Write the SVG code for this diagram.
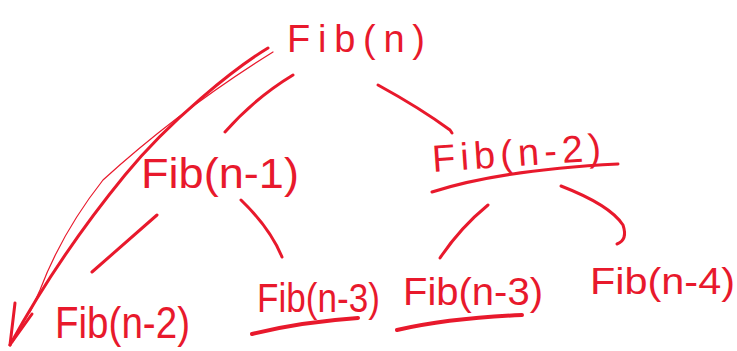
<svg xmlns="http://www.w3.org/2000/svg" width="737" height="351" viewBox="0 0 737 351">
<style>
.t{font-family:"Liberation Sans",Arial,sans-serif;fill:#e8192c}
.c{fill:none;stroke:#e8192c;stroke-width:3;stroke-linecap:round;stroke-linejoin:round}
.thin{stroke-width:1.2}
.u{stroke-width:4}
</style>
<rect width="737" height="351" fill="#ffffff"/>
<g id="connectors">
<path class="c" d="M293,75 Q255,98 225,132"/>
<path class="c" d="M378,85 Q420,108 450,130 L452,133"/>
<path class="c" d="M157,215 L92,272"/>
<path class="c" d="M241,200 Q270,228 282,257"/>
<path class="c" d="M488,205 Q460,228 440,258"/>
<path class="c" d="M561,186 Q610,205 623,225 Q628,240 617,244"/>
<path class="c" d="M268,48 C235,68 170,120 125,175 S40,290 10,345"/>
<path class="c thin" d="M273,52 Q180,110 103,180 Q62,232 40,290 L30,312"/>
<path class="c" d="M15,303 L10,345"/>
<path class="c" d="M32,314 L12,342"/>
<path class="c" d="M432,192 Q500,170 618,164"/>
<path class="c u" d="M252,334 Q300,322 358,318"/>
<path class="c u" d="M397,330 Q450,318 522,315"/>
</g>
<g id="fib-n"><text class="t" x="287" y="52" font-size="38" textLength="138" lengthAdjust="spacing">Fib(n)</text></g>
<g id="fib-n-1"><text class="t" x="141" y="188" font-size="42" textLength="158" lengthAdjust="spacingAndGlyphs">Fib(n-1)</text></g>
<g id="fib-n-2-top"><text class="t" x="433" y="172" font-size="38" textLength="169" lengthAdjust="spacing" transform="rotate(-4 433 172)">Fib(n-2)</text></g>
<g id="fib-n-2-bottom"><text class="t" x="55" y="338" font-size="44" textLength="135" lengthAdjust="spacingAndGlyphs">Fib(n-2)</text></g>
<g id="fib-n-3-left"><text class="t" x="257" y="312" font-size="40" textLength="123" lengthAdjust="spacingAndGlyphs">Fib(n-3)</text></g>
<g id="fib-n-3-right"><text class="t" x="403" y="305" font-size="38" textLength="140" lengthAdjust="spacingAndGlyphs">Fib(n-3)</text></g>
<g id="fib-n-4"><text class="t" x="590" y="294" font-size="36" textLength="145" lengthAdjust="spacingAndGlyphs">Fib(n-4)</text></g>
</svg>
